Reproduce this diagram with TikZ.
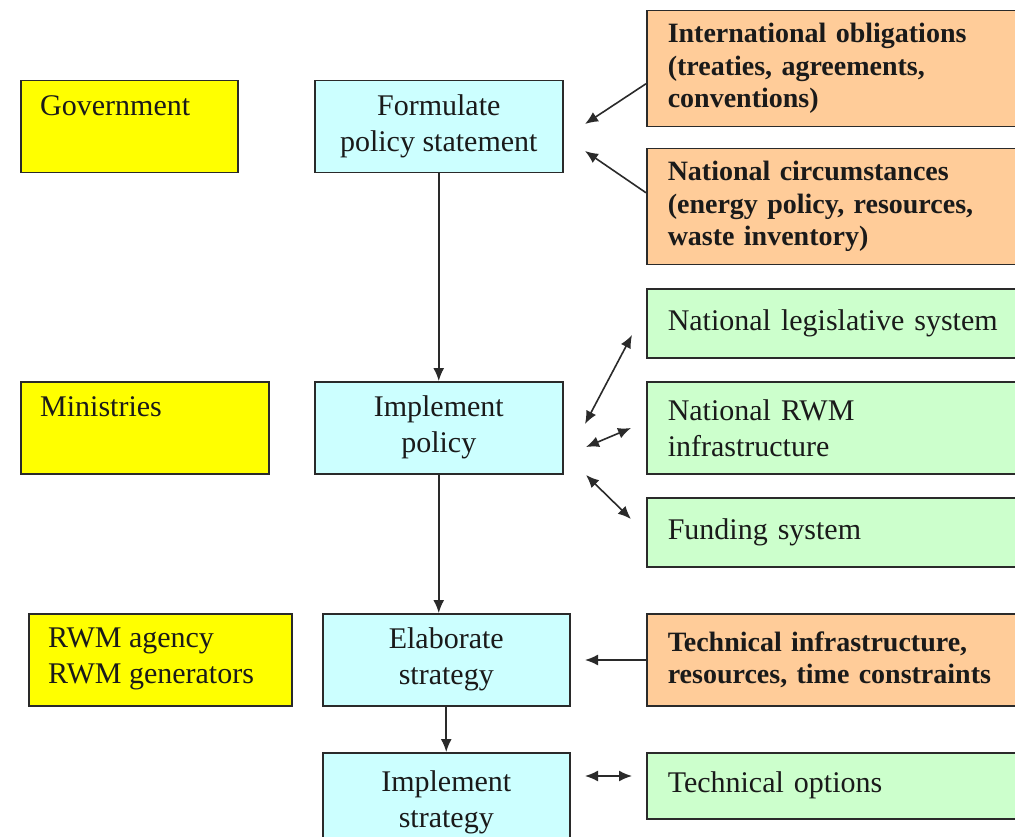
\documentclass[tikz,border=0pt]{standalone}
\usepackage{fontspec}
\setmainfont{Liberation Serif}
\usetikzlibrary{arrows.meta}
\definecolor{yel}{HTML}{FFFF00}
\definecolor{cya}{HTML}{CCFFFF}
\definecolor{ora}{HTML}{FFCC99}
\definecolor{grn}{HTML}{CCFFCC}
\definecolor{edgec}{HTML}{2A2A2A}
\definecolor{txt}{HTML}{1A1A1A}
\newcommand{\regfont}{\fontsize{30}{36}\selectfont}
\newcommand{\boldfont}{\fontsize{28}{32.5}\selectfont\bfseries}
\begin{document}
\begin{tikzpicture}[x=1pt,y=-1pt,
  box/.style={draw=edgec, line width=1.5pt, anchor=north west, inner sep=0pt, text=txt},
  yelbox/.style={box, fill=yel},
  cyabox/.style={box, fill=cya, align=center, font=\regfont},
  orabox/.style={box, fill=ora, align=left, font=\boldfont, inner xsep=21pt, text width=338pt, minimum width=380pt},
  grnbox/.style={box, fill=grn, align=left, font=\regfont, inner xsep=21pt, text width=338pt, minimum width=380pt},
  ytext/.style={anchor=north west, xshift=20pt, yshift=-15pt, align=left, font=\regfont, inner sep=0pt, text=txt},
  arr/.style={-{Latex[length=13pt,width=11pt]}, line width=1.6pt, draw=edgec},
  darr/.style={{Latex[length=13pt,width=11pt]}-{Latex[length=13pt,width=11pt]}, line width=1.6pt, draw=edgec}]
\fill[white] (0,0) rectangle (1015,837);
\clip (0,0) rectangle (1015,837);

% left column (yellow)
\node[yelbox, minimum width=217pt, minimum height=92pt,
  label={[ytext]north west:Government}] (gov) at (20,80) {};
\node[yelbox, minimum width=248pt, minimum height=92pt,
  label={[ytext]north west:Ministries}] (min) at (20,381) {};
\node[yelbox, minimum width=263pt, minimum height=92pt,
  label={[ytext]north west:RWM agency\\RWM generators}] (agen) at (28,613) {};

% middle column (cyan)
\node[cyabox, minimum width=248pt, minimum height=92pt] (form) at (314,80) {Formulate\\policy statement};
\node[cyabox, minimum width=248pt, minimum height=92pt] (impl) at (314,381) {Implement\\policy};
\node[cyabox, minimum width=247pt, minimum height=92pt] (elab) at (322,613) {Elaborate\\strategy};
\node[cyabox, minimum width=247pt, minimum height=100pt] (imps) at (322,752) {Implement\\strategy};

% right column
\node[orabox, minimum height=116pt] (intl) at (646,10) {International obligations\\(treaties, agreements,\\conventions)};
\node[orabox, minimum height=116pt] (natc) at (646,148) {National circumstances\\(energy policy, resources,\\waste inventory)};
\node[grnbox, minimum height=69pt] (nls) at (646,288) {National legislative system};
\node[grnbox, minimum height=92pt] (rwm) at (646,381) {National RWM\\infrastructure};
\node[grnbox, minimum height=69pt] (fund) at (646,497) {Funding system};
\node[orabox, minimum height=92pt] (tech) at (646,613) {Technical infrastructure,\\resources, time constraints};
\node[grnbox, minimum height=66pt] (topt) at (646,752) {Technical options};

% free arrow ends
\coordinate (e1) at (585,124);
\coordinate (e2) at (585,151);
\coordinate (e3) at (585,424);
\coordinate (e4) at (586,447);
\coordinate (e5) at (586,475);
\coordinate (e6) at (585,660);
\coordinate (e7) at (585,776);
\coordinate (s3) at (632,335);
\coordinate (s4) at (631,428);
\coordinate (s5) at (631,519);
\coordinate (s7) at (632,776);

% connectors
\draw[arr] (form.south) -- (impl.north);
\draw[arr] (impl.south) -- (elab.north -| impl.south);
\draw[arr] (elab.south) -- (imps.north);
\draw[arr] ([yshift=-15pt]intl.west) -- (e1);
\draw[arr] ([yshift=14pt]natc.west) -- (e2);
\draw[darr] (s3) -- (e3);
\draw[darr] (s4) -- (e4);
\draw[darr] (s5) -- (e5);
\draw[arr] (tech.west |- e6) -- (e6);
\draw[darr] (e7) -- (s7);
\end{tikzpicture}
\end{document}
